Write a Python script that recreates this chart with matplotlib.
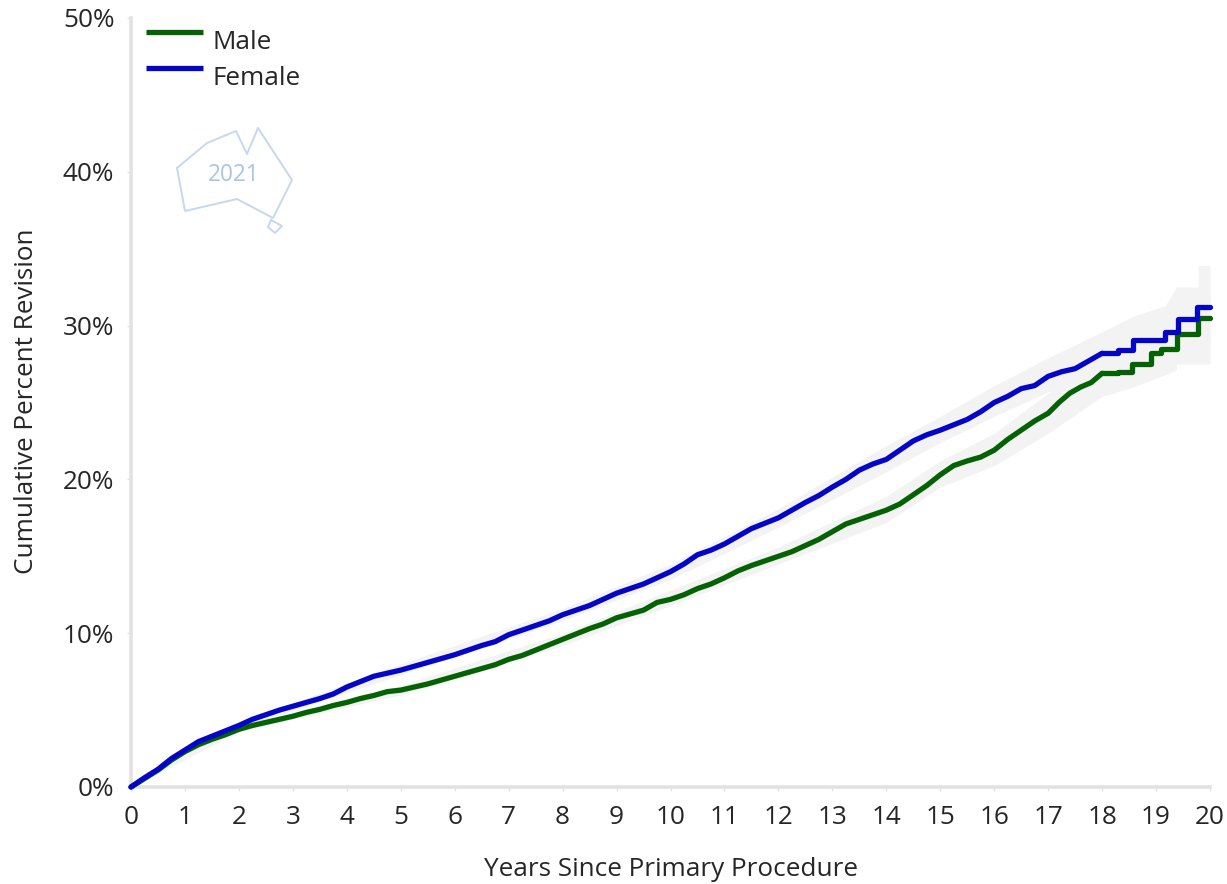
#!/usr/bin/env python
import matplotlib
matplotlib.use('agg')
import matplotlib.pyplot as plt
from matplotlib.lines import Line2D
from matplotlib.transforms import Affine2D

plt.rcParams['font.family'] = ['Open Sans', 'DejaVu Sans']

male_x = [0, .25, .5, .75, 1, 1.25, 1.5, 1.75, 2, 2.25, 2.5, 2.75, 3, 3.25, 3.5, 3.75, 4, 4.25, 4.5, 4.75,
          5, 5.25, 5.5, 5.75, 6, 6.25, 6.5, 6.75, 7, 7.25, 7.5, 7.75, 8, 8.25, 8.5, 8.75, 9, 9.25, 9.5, 9.75,
          10, 10.25, 10.5, 10.75, 11, 11.25, 11.5, 11.75, 12, 12.25, 12.5, 12.75, 13, 13.25, 13.5, 13.75,
          14, 14.25, 14.5, 14.75, 15, 15.25, 15.5, 15.75, 16, 16.25, 16.5, 16.75, 17, 17.2, 17.4, 17.6, 17.8,
          18, 18.3, 18.55, 18.9, 19.1, 19.38, 19.78, 20]
male_y = [0, .55, 1.1, 1.75, 2.3, 2.75, 3.1, 3.4, 3.75, 4.0, 4.2, 4.4, 4.6, 4.85, 5.05, 5.3, 5.5, 5.75, 5.95, 6.2,
          6.3, 6.5, 6.7, 6.95, 7.2, 7.45, 7.7, 7.95, 8.3, 8.55, 8.9, 9.25, 9.6, 9.95, 10.3, 10.6, 11.0, 11.25, 11.5, 12.0,
          12.2, 12.5, 12.9, 13.2, 13.6, 14.05, 14.4, 14.7, 15.0, 15.3, 15.7, 16.1, 16.6, 17.1, 17.4, 17.7,
          18.0, 18.4, 19.0, 19.6, 20.3, 20.9, 21.2, 21.45, 21.9, 22.6, 23.2, 23.8, 24.3, 25.0, 25.6, 26.0, 26.3,
          26.9, 27.0, 27.5, 28.2, 28.5, 29.45, 30.5, 30.5]

female_x = [0, .25, .5, .75, 1, 1.25, 1.5, 1.75, 2, 2.25, 2.5, 2.75, 3, 3.25, 3.5, 3.75, 4, 4.25, 4.5, 4.75,
            5, 5.25, 5.5, 5.75, 6, 6.25, 6.5, 6.75, 7, 7.25, 7.5, 7.75, 8, 8.25, 8.5, 8.75, 9, 9.25, 9.5, 9.75,
            10, 10.25, 10.5, 10.75, 11, 11.25, 11.5, 11.75, 12, 12.25, 12.5, 12.75, 13, 13.25, 13.5, 13.75,
            14, 14.25, 14.5, 14.75, 15, 15.25, 15.5, 15.75, 16, 16.25, 16.5, 16.75, 17, 17.25, 17.5, 17.75,
            18, 18.3, 18.57, 19.17, 19.4, 19.75, 20]
female_y = [0, .6, 1.15, 1.85, 2.4, 2.95, 3.3, 3.65, 4.0, 4.4, 4.7, 5.0, 5.25, 5.5, 5.75, 6.05, 6.5, 6.85, 7.2, 7.4,
            7.6, 7.85, 8.1, 8.35, 8.6, 8.9, 9.2, 9.45, 9.9, 10.2, 10.5, 10.8, 11.2, 11.5, 11.8, 12.2, 12.6, 12.9, 13.2, 13.6,
            14.0, 14.5, 15.1, 15.4, 15.8, 16.3, 16.8, 17.15, 17.5, 18.0, 18.5, 18.95, 19.5, 20.0, 20.6, 21.0,
            21.3, 21.9, 22.5, 22.9, 23.2, 23.55, 23.9, 24.4, 25.0, 25.4, 25.9, 26.1, 26.7, 27.0, 27.2, 27.7,
            28.2, 28.4, 29.05, 29.6, 30.4, 31.2, 31.2]

band_x = [0, 2, 5, 8, 10, 12, 14, 15, 16, 17, 18, 18.57, 19.17, 19.38, 19.38, 19.78, 19.78, 20]
male_lo = [0, 3.6, 6.0, 9.2, 11.8, 14.5, 17.2, 19.5, 20.9, 23.0, 25.4, 26.0, 26.8, 27.1, 27.5, 27.5, 27.5, 27.5]
male_hi = [0, 3.9, 6.6, 10.0, 12.8, 15.6, 18.9, 21.2, 23.0, 25.6, 28.2, 29.0, 30.0, 30.6, 31.5, 31.5, 32.0, 32.0]
female_lo = [0, 3.8, 7.3, 10.8, 13.5, 16.9, 20.5, 22.4, 24.1, 25.7, 27.0, 27.7, 28.0, 28.4, 28.6, 28.6, 28.8, 28.8]
female_hi = [0, 4.2, 8.0, 11.6, 14.5, 18.1, 22.2, 24.1, 26.1, 27.9, 29.6, 30.6, 31.3, 32.5, 32.5, 32.5, 33.9, 33.9]

x_ticks = list(range(0, 21))
y_ticks = [0, 10, 20, 30, 40, 50]
y_labels = ['0%', '10%', '20%', '30%', '40%', '50%']

# map outline, image pixels
aus_x = [177, 207, 236, 247, 258, 292, 273, 237, 185, 177]
aus_y = [168, 143, 131, 154, 128, 180, 218, 199, 211, 168]
tas_x = [271, 282, 275, 268, 271]
tas_y = [220, 226, 233, 227, 220]

W, H = 1227, 884
GREEN = '#046204'
BLUE = '#0505c8'
GRID = '#e2e2e2'
TEXT = '#262626'
STEPS_FROM = 18  # the curves are visibly stepped only past here
FS = 18.8

fig = plt.figure(figsize=(W / 100, H / 100), dpi=100)
ax = fig.add_axes([131 / W, 1 - 787 / H, (1210 - 131) / W, (787 - 18) / H])

ax.fill_between(band_x, male_lo, male_hi, color='#f3f3f3', lw=0, zorder=1)
ax.fill_between(band_x, female_lo, female_hi, color='#f3f3f3', lw=0, zorder=1)


def draw_curve(xs, ys, color, label, z):
    head = [i for i, v in enumerate(xs) if v <= STEPS_FROM]
    tail = [i for i, v in enumerate(xs) if v >= STEPS_FROM]
    ax.plot([xs[i] for i in head], [ys[i] for i in head], color=color, lw=3.8, label=label, zorder=z,
            clip_on=False, solid_joinstyle='round', solid_capstyle='round')
    ax.plot([xs[i] for i in tail], [ys[i] for i in tail], drawstyle='steps-post', color=color, lw=3.8, zorder=z,
            clip_on=False, solid_joinstyle='round', solid_capstyle='round')


draw_curve(male_x, male_y, GREEN, 'Male', 3)
draw_curve(female_x, female_y, BLUE, 'Female', 4)

ax.set_xlim(0, 20)
ax.set_ylim(0, 50)
ax.set_xticks(x_ticks)
ax.set_yticks(y_ticks)
ax.set_yticklabels(y_labels)
ax.tick_params(axis='both', length=3, width=1, color=GRID, labelsize=FS, labelcolor=TEXT)
ax.tick_params(axis='x', pad=10)
ax.tick_params(axis='y', pad=9)
ax.spines['top'].set_visible(False)
ax.spines['right'].set_visible(False)
for s in ['left', 'bottom']:
    ax.spines[s].set_color(GRID)
    ax.spines[s].set_linewidth(2.6)
ax.patch.set_alpha(0)

ax.set_xlabel('Years Since Primary Procedure', fontsize=FS, color=TEXT)
ax.xaxis.set_label_coords(671 / W, 1 - 869 / H, transform=fig.transFigure)
ax.xaxis.label.set_va('center')
ax.set_ylabel('Cumulative Percent Revision', fontsize=FS, color=TEXT)
ax.yaxis.set_label_coords(27 / W, 1 - 401 / H, transform=fig.transFigure)
ax.yaxis.label.set_va('center')

leg = ax.legend(loc='upper left', bbox_to_anchor=((146 - 131) / 1079, 1.0 - 12 / 769), frameon=False, fontsize=FS,
                handlelength=2.2, handletextpad=0.35, labelspacing=0.42, borderaxespad=0, borderpad=0,
                labelcolor=TEXT)
# legend lines sit above the text centre in the original
for line in leg.get_lines():
    line.set_solid_capstyle('butt')
    line.set_ydata([v + 5.4 for v in line.get_ydata()])

# 2021 watermark, placed in image pixels
to_px = Affine2D().scale(1, -1).translate(0, H)
for xs, ys in [(aus_x, aus_y), (tas_x, tas_y)]:
    fig.add_artist(Line2D(xs, ys, transform=to_px, color='#c6d8ef', lw=1.4))
fig.text(234 / W, 1 - 175 / H, '2021', color='#a9c4e6', fontsize=16.3, ha='center', va='center')

fig.savefig('out.png', dpi=100)
